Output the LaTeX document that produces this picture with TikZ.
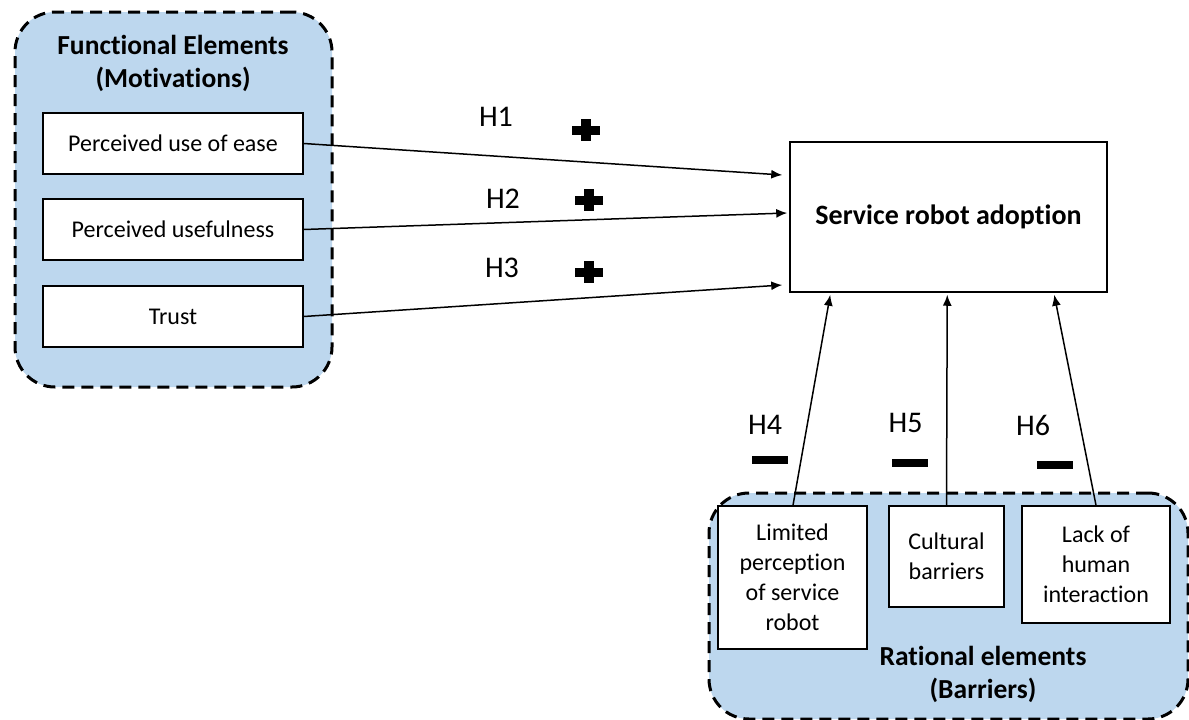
\documentclass[tikz,border=0pt]{standalone}
\usepackage{fontspec}
\setmainfont[Ligatures=NoCommon]{Carlito}
\usetikzlibrary{arrows.meta,calc}
\definecolor{grpblue}{RGB}{189,215,238}
\begin{document}
\begin{tikzpicture}[x=1pt,y=-1pt,
  group/.style={draw=black, line width=3pt, dash pattern=on 12pt off 7pt, fill=grpblue, rounded corners=40pt, rectangle, inner sep=0pt},
  factor/.style={draw=black, line width=1.5pt, fill=white, rectangle, inner sep=2pt, align=center, font=\fontsize{24}{30}\selectfont},
  conn/.style={line width=1.5pt, -{Latex[length=11pt,width=9pt]}},
  hlab/.style={font=\fontsize{30}{32}\selectfont, inner sep=0pt, text height=19.3pt, text depth=0pt},
  ttl/.style={font=\bfseries\fontsize{27.5}{33}\selectfont, align=center, inner sep=0pt},
  plussign/.pic={\fill (-14,-4.5) rectangle (14,4.5); \fill (-5,-11) rectangle (5,11);},
  minussign/.pic={\fill (-18,-4) rectangle (18,4);}]
\useasboundingbox (0,0) rectangle (1189,720);

% groups
\node[group, minimum width=317pt, minimum height=375pt] (motiv) at (173.5,199.5) {};
\node[group, minimum width=479pt, minimum height=226pt] (barr) at (948.5,606) {};

\node[ttl] (motivtitle) at (173,63) {Functional Elements\\(Motivations)};
\node[ttl] (barrtitle) at (983,674) {Rational elements\\(Barriers)};

% factors
\node[factor, minimum width=260pt, minimum height=61pt] (pue) at (173,143.5) {Perceived use of ease};
\node[factor, minimum width=260pt, minimum height=61pt] (pu) at (173,229.5) {Perceived usefulness};
\node[factor, minimum width=260pt, minimum height=61pt] (trust) at (173,316.5) {Trust};

\node[factor, minimum width=317pt, minimum height=150pt, font=\bfseries\fontsize{28}{30}\selectfont] (sra) at (948.5,217) {Service robot adoption};

\node[factor, minimum width=149pt, minimum height=143pt] (lim) at (792.5,577.5) {Limited\\perception\\of service\\robot};
\node[factor, minimum width=115pt, minimum height=101pt] (cult) at (946.5,556.5) {Cultural\\barriers};
\node[factor, minimum width=148pt, minimum height=117pt] (lack) at (1096,564.5) {Lack of\\human\\interaction};

% connectors
\draw[conn] (pue.east) -- ($(sra.west)+(-7,-42)$);
\draw[conn] (pu.east) -- ($(sra.west)+(-2,-4)$);
\draw[conn] (trust.east) -- ($(sra.west)+(-7,68)$);
\draw[conn] ($(lim.north)+(0.5,0)$) -- ($(sra.south west)+(41,2)$);
\draw[conn] (cult.north) -- ($(sra.south west)+(158,2)$);
\draw[conn] (lack.north) -- ($(sra.south west)+(265,2)$);

% labels
\node[hlab] (h1) at (496,117) {H1};
\node[hlab] (h2) at (503,199) {H2};
\node[hlab] (h3) at (502,268) {H3};
\node[hlab] (h4) at (765,425) {H4};
\node[hlab] (h5) at (905.5,423) {H5};
\node[hlab] (h6) at (1033,426) {H6};

\pic at (586,130) {plussign};
\pic at (589,200) {plussign};
\pic at (589,272) {plussign};
\pic at (770,460) {minussign};
\pic at (910,463) {minussign};
\pic at (1055,465) {minussign};
\end{tikzpicture}
\end{document}
